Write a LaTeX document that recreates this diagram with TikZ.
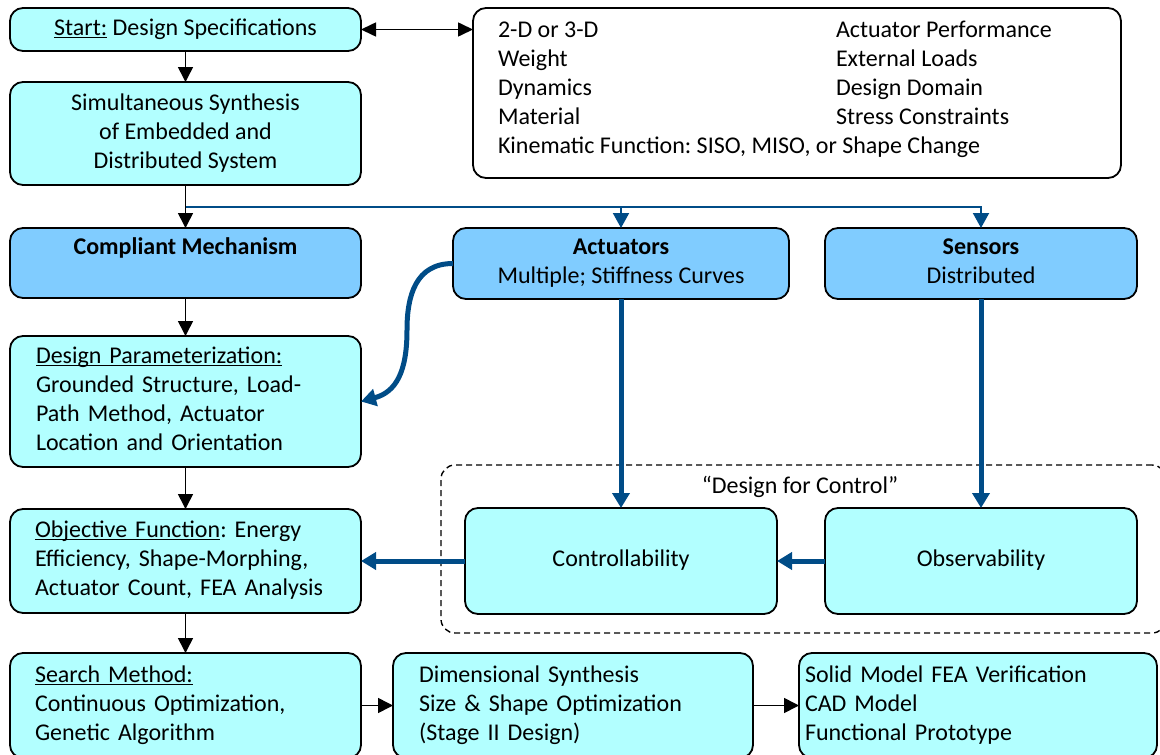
\documentclass[tikz,border=0pt]{standalone}
\usepackage{fontspec}
\setmainfont{Carlito}
\usetikzlibrary{arrows.meta}
\definecolor{cyanfill}{RGB}{178,255,255}
\definecolor{bluefill}{RGB}{128,204,255}
\definecolor{darkblue}{RGB}{0,76,135}
\newcommand\myul[1]{\underline{\smash{#1}}}
\begin{document}
\frenchspacing
\begin{tikzpicture}[x=1pt,y=-1pt,
  every node/.style={font=\fontsize{24}{29}\selectfont, outer sep=0pt},
  box/.style={draw=black, line width=1.8pt, rounded corners=13pt, fill=cyanfill, anchor=north west, inner sep=0pt, align=center},
  lbox/.style={box, align=left},
  bbox/.style={box, fill=bluefill},
  wbox/.style={box, fill=white},
  dashbox/.style={draw=black, line width=1.4pt, dash pattern=on 6pt off 4pt, rounded corners=14pt, anchor=north west, inner sep=0pt},
  blk/.style={line width=1.6pt, draw=black, -{Triangle[length=15pt,width=15pt]}},
  blkdbl/.style={line width=1.6pt, draw=black, {Triangle[length=15pt,width=14pt]}-{Triangle[length=15pt,width=14pt]}},
  bthin/.style={line width=2pt, draw=darkblue, -{Triangle[length=15pt,width=16pt]}},
  bthick/.style={line width=5pt, draw=darkblue, -{Triangle[length=15pt,width=17pt]}},
]
\useasboundingbox (0,0) rectangle (1160,755);
\clip (0,0) rectangle (1160,755);

% dashed "design for control" region
\node[dashbox, minimum width=725, minimum height=168] (dfc) at (441,465) {};
\node (dfclbl) at (800,487) {“Design for Control”};

% boxes
\node[box, minimum width=351, minimum height=43] (start) at (10,8)
  {\strut\myul{Start:} Design Specifications};
\node[box, minimum width=351, minimum height=103] (synth) at (10,82)
  {\strut Simultaneous Synthesis\\\strut of Embedded and\\\strut Distributed System};
\node[wbox, minimum width=648, minimum height=170] (spec) at (473,8) {};
\node[anchor=north west, inner sep=0pt] (spectxt) at (498,16.7)
  {\begin{tabular}{@{}p{338pt}@{}l@{}}
   2-D or 3-D & Actuator Performance\\
   Weight & External Loads\\
   Dynamics & Design Domain\\
   Material & Stress Constraints\\
   \multicolumn{2}{@{}l@{}}{Kinematic Function: SISO, MISO, or Shape Change}
   \end{tabular}};
\node[bbox, minimum width=351, minimum height=70] (comp) at (10,228)
  {\strut\textbf{Compliant Mechanism}\\\strut};
\node[bbox, minimum width=336, minimum height=71] (act) at (453,228)
  {\strut\textbf{Actuators}\\\strut Multiple; Stiffness Curves};
\node[bbox, minimum width=312, minimum height=71] (sens) at (825,228)
  {\strut\textbf{Sensors}\\\strut Distributed};
\node[lbox, inner xsep=26pt, text width=299pt, minimum height=131] (dp) at (10,336)
  {\strut\myul{Design Parameterization:}\\\strut Grounded Structure, Load-\\\strut Path Method, Actuator\\\strut Location and Orientation};
\node[lbox, inner xsep=25pt, text width=301pt, minimum height=104] (obj) at (10,509)
  {\strut\myul{Objective Function}: Energy\\\strut Efficiency, Shape-Morphing,\\\strut Actuator Count, FEA Analysis};
\node[box, minimum width=312, minimum height=106] (ctrl) at (465,508) {\strut Controllability};
\node[box, minimum width=312, minimum height=106] (obs) at (825,508) {\strut Observability};
\node[lbox, inner xsep=25pt, text width=301pt, minimum height=105] (search) at (10,653)
  {\strut\myul{Search Method:}\\\strut Continuous Optimization,\\\strut Genetic Algorithm};
\node[lbox, inner xsep=26pt, text width=308pt, minimum height=105] (dim) at (393,653)
  {\strut Dimensional Synthesis\\\strut Size \& Shape Optimization\\\strut (Stage II Design)};
\node[lbox, inner xsep=6pt, text width=346pt, minimum height=105] (solid) at (799,653)
  {\strut Solid Model FEA Verification\\\strut CAD Model\\\strut Functional Prototype};

% connectors
\draw[blk] (start) -- (synth);
\draw[blkdbl] (start.east) -- (start.east -| spec.west);
\draw[blk] (synth) -- (comp);
\coordinate (br) at (186,207);
\draw[bthin] (br) -| (act.north);
\draw[bthin] (br) -| (sens.north);
\draw[blk] (comp) -- (dp);
\draw[bthick] (act.west) .. controls (416,263.5) and (407,295) .. (407,330)
  .. controls (407,372) and (396,392) .. (dp.east);
\draw[bthick] (act) -- (ctrl);
\draw[bthick] (sens) -- (obs);
\draw[bthick] (ctrl) -- (obj);
\draw[bthick] (obs) -- (ctrl);
\draw[blk] (dp) -- (obj);
\draw[blk] (obj) -- (search);
\draw[blk] (search) -- (dim);
\draw[blk] (dim) -- (solid);
\end{tikzpicture}
\end{document}
